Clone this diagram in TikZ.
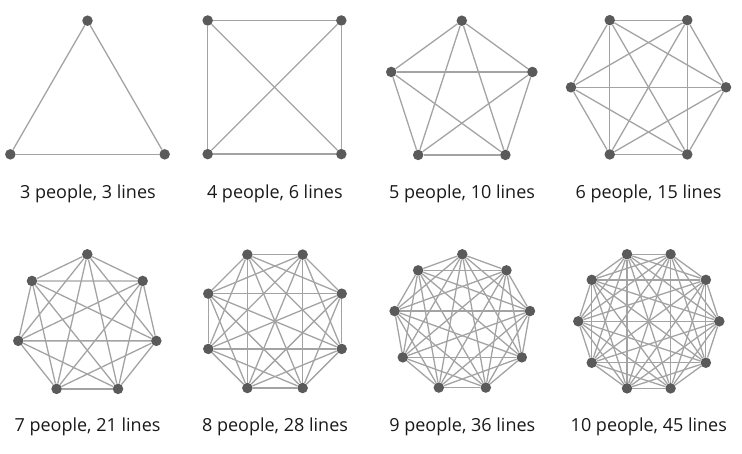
\documentclass[tikz,border=0pt]{standalone}
\usepackage{fontspec}
\setmainfont{Open Sans}
\usetikzlibrary{calc}
\definecolor{dotc}{HTML}{5A5A5A}
\definecolor{edgec}{HTML}{A3A3A3}
\tikzset{
  dot/.style={circle,fill=dotc,draw=none,inner sep=0pt,minimum size=10.5pt},
  edge/.style={draw=edgec,line width=1.3pt},
  caption/.style={anchor=base,font=\fontsize{18}{20}\selectfont,text=black!90,inner sep=0pt}
}
\newcommand\kgraph[6]{%
  \foreach \k in {1,...,#2} {
    \node[dot] (#1-\k) at ($(#3,#4)+({#6+360*(\k-1)/#2}:#5)$) {};
  }
  \foreach \i in {1,...,#2} {
    \foreach \j in {1,...,#2} {
      \ifnum\i<\j \draw[edge] (#1-\i) -- (#1-\j); \fi
    }
  }
}
\begin{document}
\begin{tikzpicture}[x=1pt,y=1pt]
\useasboundingbox (0,0) rectangle (742,-454);
\kgraph{a}{3}{87.5}{-109.8}{89.1}{90}
\kgraph{b}{4}{274.5}{-87.3}{94.5}{45}
\kgraph{c}{5}{461.8}{-94.9}{74.2}{90}
\kgraph{d}{6}{648.5}{-87.3}{77.5}{0}
\kgraph{e}{7}{87.3}{-325.1}{70.8}{90}
\kgraph{f}{8}{275}{-321.3}{72.2}{22.5}
\kgraph{g}{9}{462.3}{-323}{68.7}{90}
\kgraph{h}{10}{648.8}{-321.3}{70.5}{0}
\node[caption] (la) at (87.9,-198.3) {3 people, 3 lines};
\node[caption] (lb) at (274.8,-198.3) {4 people, 6 lines};
\node[caption] (lc) at (462,-198.3) {5 people, 10 lines};
\node[caption] (ld) at (648.5,-198.3) {6 people, 15 lines};
\node[caption] (le) at (87.5,-431.7) {7 people, 21 lines};
\node[caption] (lf) at (275,-431.7) {8 people, 28 lines};
\node[caption] (lg) at (462.3,-431.7) {9 people, 36 lines};
\node[caption] (lh) at (648.8,-431.7) {10 people, 45 lines};
\end{tikzpicture}
\end{document}
